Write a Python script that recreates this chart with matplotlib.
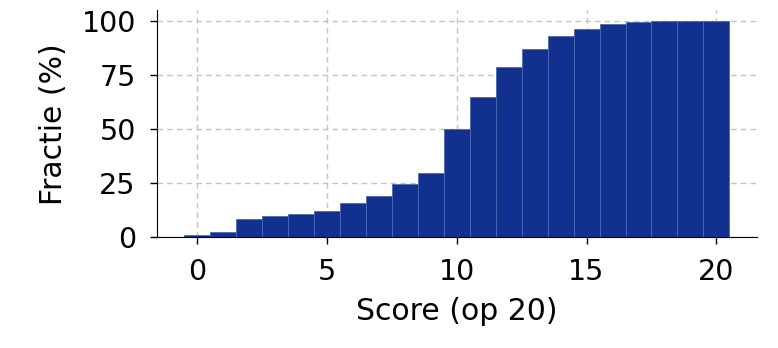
import matplotlib
matplotlib.use("Agg")
import matplotlib.pyplot as plt

# ===== DATA =====
scores = list(range(0, 21))
fractie = [1.2, 2.6, 8.5, 9.7, 10.8, 12.3, 15.7, 19.0, 24.8, 29.7, 50.0,
           64.9, 78.6, 87.2, 93.2, 96.3, 98.6, 99.5, 99.8, 100.0, 100.0]
xticks = [0, 5, 10, 15, 20]
yticks = [0, 25, 50, 75, 100]

# ===== FIGURE =====
fig = plt.figure(figsize=(7.78, 3.48), dpi=100)
ax = fig.add_axes([0.2014, 0.318, 0.7712, 0.653])

ax.bar(scores, fractie, width=1.0, color="#12318f",
       edgecolor="#4d68b5", linewidth=0.6, zorder=2)

ax.set_xticks(xticks)
ax.set_yticks(yticks)
ax.tick_params(labelsize=20.5, length=5, width=1, pad=10)
ax.grid(True, color="#c4c4c4", linestyle=(0, (4, 3)), linewidth=1, zorder=0)
ax.set_axisbelow(True)

for s in ["top", "right"]:
    ax.spines[s].set_visible(False)

ax.set_xlabel("Score (op 20)", fontsize=21.5, labelpad=8)
ax.set_ylabel("Fractie (%)", fontsize=21.5, labelpad=10)

fig.savefig("out.png", dpi=100)
